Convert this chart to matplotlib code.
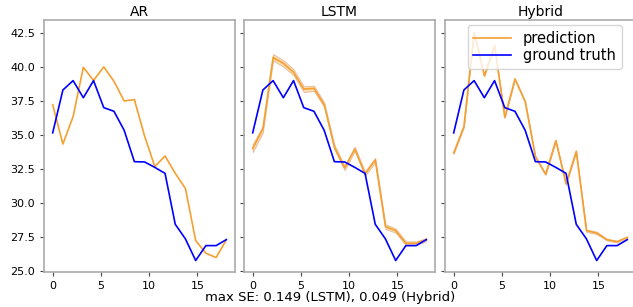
import numpy as np
import matplotlib
matplotlib.use('Agg')
import matplotlib.pyplot as plt

# 18 Messpunkte zwischen 0 und 18
steps = np.linspace(0, 18, 18)

ground_truth = [35.14, 38.30, 38.99, 37.73, 38.99, 37.00, 36.73, 35.33, 33.02,
                33.00, 32.60, 32.16, 28.41, 27.33, 25.74, 26.84, 26.84, 27.28]

ar_pred = [37.22, 34.32, 36.34, 39.97, 39.00, 40.00, 38.94, 37.49, 37.59,
           34.90, 32.66, 33.44, 32.16, 31.04, 27.21, 26.28, 25.96, 27.26]

lstm_pred = [34.00, 35.43, 40.70, 40.26, 39.60, 38.37, 38.42, 37.22, 34.10,
             32.56, 33.96, 32.12, 33.15, 28.24, 27.94, 27.01, 27.01, 27.28]
lstm_se = [0.149, 0.130, 0.125, 0.120, 0.115, 0.110, 0.100, 0.090, 0.090,
           0.085, 0.085, 0.080, 0.080, 0.090, 0.080, 0.075, 0.070, 0.060]

hybrid_pred = [33.66, 35.60, 42.54, 39.35, 41.56, 36.29, 39.11, 37.44, 33.39,
               32.09, 34.57, 31.38, 33.78, 27.94, 27.77, 27.28, 27.13, 27.45]
hybrid_se = [0.030, 0.030, 0.035, 0.030, 0.030, 0.030, 0.030, 0.030, 0.030,
             0.030, 0.030, 0.030, 0.035, 0.049, 0.045, 0.035, 0.030, 0.030]

titles = ['AR', 'LSTM', 'Hybrid']
preds = [ar_pred, lstm_pred, hybrid_pred]
ses = [None, lstm_se, hybrid_se]

W, H = 633, 307
fig = plt.figure(figsize=(W / 100, H / 100), dpi=100)

orange = '#f5a030'
lefts = [44, 244, 445]
axes = []
for k in range(3):
    if k == 0:
        ax = fig.add_axes([lefts[k] / W, 35 / H, 191 / W, 252 / H])
    else:
        ax = fig.add_axes([lefts[k] / W, 35 / H, 191 / W, 252 / H], sharey=axes[0])
    axes.append(ax)

    p = np.array(preds[k])
    if ses[k] is not None:
        se = np.array(ses[k])
        ax.fill_between(steps, p - 2 * se, p + 2 * se, facecolor=orange,
                        alpha=0.35, edgecolor='#b85a20', linewidth=0.6)
    ax.plot(steps, p, color=orange, lw=1.2, label='prediction')
    ax.plot(steps, ground_truth, color='blue', lw=1.2, label='ground truth')

    ax.set_title(titles[k], fontsize=10, pad=3)
    ax.set_xticks([0, 5, 10, 15])
    ax.tick_params(labelsize=8, colors='#444444', labelcolor='black', length=3)
    for s in ax.spines.values():
        s.set_color('#aaaaaa')
        s.set_linewidth(1.2)
    if k > 0:
        ax.tick_params(labelleft=False)

axes[0].set_yticks([25.0, 27.5, 30.0, 32.5, 35.0, 37.5, 40.0, 42.5])

axes[2].legend(loc='upper right', bbox_to_anchor=(0.925, 0.98), borderaxespad=0,
               fontsize=10.5, handlelength=2.6, labelspacing=0.15,
               edgecolor='#cccccc')

fig.text(330 / W, 9 / H, 'max SE: 0.149 (LSTM), 0.049 (Hybrid)',
         ha='center', va='center', fontsize=9.5)

fig.savefig('out.png', dpi=100)
